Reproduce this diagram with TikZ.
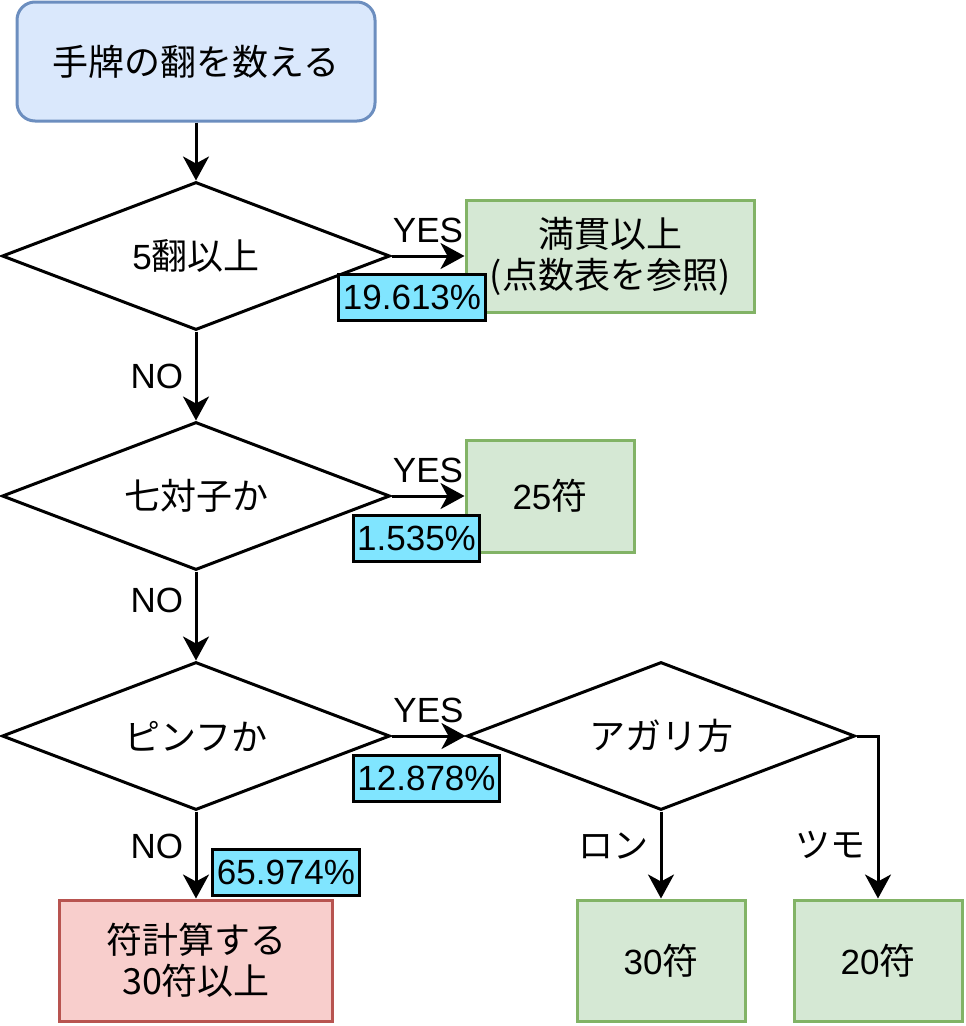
\documentclass[tikz,border=0pt]{standalone}
\usepackage{fontspec}
\setmainfont{Liberation Sans}
\newfontfamily\jp{Noto Sans CJK JP}
\usetikzlibrary{arrows.meta, shapes.geometric, positioning}
\definecolor{startfill}{HTML}{DAE8FC}
\definecolor{startline}{HTML}{6C8EBF}
\definecolor{okfill}{HTML}{D5E8D4}
\definecolor{okline}{HTML}{82B366}
\definecolor{calcfill}{HTML}{F8CECC}
\definecolor{calcline}{HTML}{B85450}
\definecolor{ratecyan}{HTML}{80E5FF}

\begin{document}
\begin{tikzpicture}[x=1pt, y=-1pt, line width=3pt,
    font=\fontsize{35}{41}\selectfont,
    startbox/.style={draw=startline, fill=startfill, rounded corners=18pt, minimum width=358pt, minimum height=119pt, font=\fontsize{36}{41}\selectfont\jp},
    decision/.style={diamond, draw, fill=white, aspect=2.6, inner sep=0pt, minimum width=388pt, minimum height=148pt},
    okbox/.style={draw=okline, fill=okfill, minimum height=112pt, align=center},
    calcbox/.style={draw=calcline, fill=calcfill, minimum width=273pt, minimum height=121pt, align=center, font=\fontsize{36}{41}\selectfont\jp},
    ratelabel/.style={draw=black, fill=ratecyan, inner xsep=4pt, inner ysep=0pt, minimum height=46pt},
    edge/.style={-{Stealth[length=24pt, width=26pt, inset=7pt]}},
    yeslabel/.style={midway, above, inner sep=12pt},
    nolabel/.style={left, xshift=-8pt}]
  \useasboundingbox (0,0) rectangle (966,1026);

  % start
  \node[startbox] (count) at (196,61.5) {手牌の翻を数える};

  % decisions
  \node[decision] (mangan) at (196,256) {5{\jp\fontsize{36}{41}\selectfont 翻以上}};
  \node[decision] (chiitoi) at (196,496) {\jp\fontsize{36}{41}\selectfont 七対子か};
  \node[decision] (pinfu) at (196,736) {\jp\fontsize{36}{41}\selectfont ピンフか};
  \node[decision] (agari) at (661,736) {\jp\fontsize{36}{41}\selectfont アガリ方};

  % results
  \node[okbox, minimum width=288pt, font=\fontsize{36}{41}\selectfont\jp] (manganup) at (610,256) {満貫以上\\(点数表を参照)};
  \node[okbox, minimum width=168pt] (fu25) at (550,496) {25{\jp\fontsize{36}{41}\selectfont 符}};
  \node[calcbox] (fucalc) at (196,960.5) {符計算する\\30符以上};
  \node[okbox, minimum width=168pt, minimum height=121pt] (fu30) at (661,960.5) {30{\jp\fontsize{36}{41}\selectfont 符}};
  \node[okbox, minimum width=168pt, minimum height=121pt] (fu20) at (878,960.5) {20{\jp\fontsize{36}{41}\selectfont 符}};

  % connectors
  \draw[edge] (count) -- (mangan);
  \draw[edge] (mangan) -- (manganup) node[yeslabel] {YES};
  \draw[edge] (mangan) -- (chiitoi) node[nolabel, pos=0.5] {NO};
  \draw[edge] (chiitoi) -- (fu25) node[yeslabel] {YES};
  \draw[edge] (chiitoi) -- (pinfu) node[nolabel, pos=0.33] {NO};
  \draw[edge] (pinfu) -- (agari) node[yeslabel] {YES};
  \draw[edge] (pinfu) -- (fucalc) node[nolabel, pos=0.4] {NO};
  \draw[edge] (agari) -- (fu30) node[nolabel, pos=0.4] {\jp ロン};
  \draw[edge] (agari.east) -| (fu20) node[nolabel, pos=0.835] {\jp ツモ};

  % rates
  \node[ratelabel] (rate1) at (412,297) {19.613\%};
  \node[ratelabel] (rate2) at (416.5,538.5) {1.535\%};
  \node[ratelabel] (rate3) at (426.5,778) {12.878\%};
  \node[ratelabel] (rate4) at (286,872) {65.974\%};
\end{tikzpicture}
\end{document}
